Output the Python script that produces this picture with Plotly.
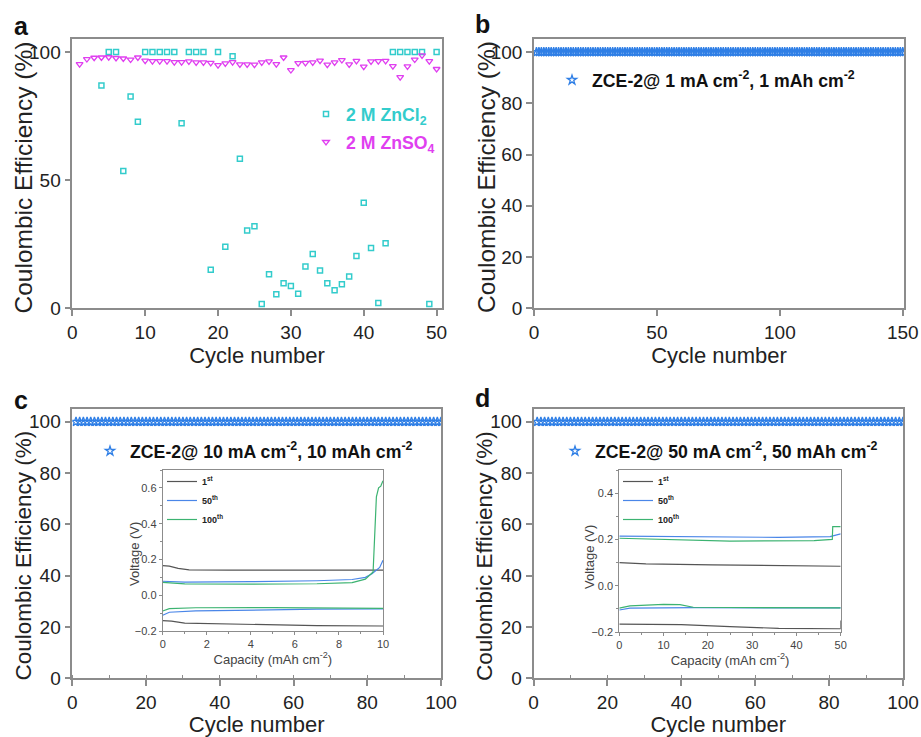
import plotly.graph_objects as go

W, H = 921, 737
FONT = "Arial, 'Liberation Sans', sans-serif"


def px(x):
    return x / W


def py(y):
    return 1 - y / H


# ---------------- Panel a data ----------------
a_cyc_zncl2 = [4, 5, 6, 7, 8, 9, 10, 11, 12, 13, 14, 15, 16, 17, 18, 19, 20, 21, 22, 23,
               24, 25, 26, 27, 28, 29, 30, 31, 32, 33, 34, 35, 36, 37, 38, 39, 40, 41, 42,
               43, 44, 45, 46, 47, 48, 49, 50]
a_ce_zncl2 = [87.0, 100.0, 100.0, 53.6, 82.7, 72.8, 100.0, 100.0, 100.0, 100.0, 100.0, 72.2,
              100.0, 100.0, 100.0, 15.0, 100.0, 24.0, 98.4, 58.4, 30.4, 32.0, 1.7, 13.3, 5.5,
              9.8, 8.7, 5.7, 16.3, 21.2, 14.8, 9.8, 7.0, 9.4, 12.4, 20.4, 41.2, 23.5, 2.1, 25.4,
              100.0, 100.0, 100.0, 100.0, 100.0, 1.7, 100.0]
a_cyc_znso4 = list(range(1, 51))
a_ce_znso4 = [95.3, 97.3, 97.8, 97.9, 98.0, 97.7, 97.5, 97.1, 97.9, 96.7, 96.5, 96.5, 96.5,
              96.1, 96.1, 96.4, 96.0, 96.0, 95.8, 94.9, 95.6, 96.1, 95.2, 95.2, 95.1, 96.0,
              96.4, 95.3, 97.9, 93.0, 95.7, 95.8, 96.0, 96.7, 95.1, 96.0, 96.9, 95.2, 96.6,
              94.3, 96.4, 96.5, 96.6, 94.5, 90.2, 94.4, 97.1, 98.7, 96.5, 93.4]

# ---------------- Panels b, c, d data ----------------
b_cycles = list(range(1, 151))
b_ce = [100, 100, 100, 100, 100, 100, 100, 100, 100, 100, 100, 100, 100, 100, 100,
        100, 100, 100, 100, 100, 100, 100, 100, 100, 100, 100, 100, 100, 100, 100,
        100, 100, 100, 100, 100, 100, 100, 100, 100, 100, 100, 100, 100, 100, 100,
        100, 100, 100, 100, 100, 100, 100, 100, 100, 100, 100, 100, 100, 100, 100,
        100, 100, 100, 100, 100, 100, 100, 100, 100, 100, 100, 100, 100, 100, 100,
        100, 100, 100, 100, 100, 100, 100, 100, 100, 100, 100, 100, 100, 100, 100,
        100, 100, 100, 100, 100, 100, 100, 100, 100, 100, 100, 100, 100, 100, 100,
        100, 100, 100, 100, 100, 100, 100, 100, 100, 100, 100, 100, 100, 100, 100,
        100, 100, 100, 100, 100, 100, 100, 100, 100, 100, 100, 100, 100, 100, 100,
        100, 100, 100, 100, 100, 100, 100, 100, 100, 100, 100, 100, 100, 100, 100]
c_cycles = list(range(1, 101))
c_ce = [100, 100, 100, 100, 100, 100, 100, 100, 100, 100, 100, 100, 100, 100, 100,
        100, 100, 100, 100, 100, 100, 100, 100, 100, 100, 100, 100, 100, 100, 100,
        100, 100, 100, 100, 100, 100, 100, 100, 100, 100, 100, 100, 100, 100, 100,
        100, 100, 100, 100, 100, 100, 100, 100, 100, 100, 100, 100, 100, 100, 100,
        100, 100, 100, 100, 100, 100, 100, 100, 100, 100, 100, 100, 100, 100, 100,
        100, 100, 100, 100, 100, 100, 100, 100, 100, 100, 100, 100, 100, 100, 100,
        100, 100, 100, 100, 100, 100, 100, 100, 100, 100]
d_cycles = list(range(1, 101))
d_ce = [100, 100, 100, 100, 100, 100, 100, 100, 100, 100, 100, 100, 100, 100, 100,
        100, 100, 100, 100, 100, 100, 100, 100, 100, 100, 100, 100, 100, 100, 100,
        100, 100, 100, 100, 100, 100, 100, 100, 100, 100, 100, 100, 100, 100, 100,
        100, 100, 100, 100, 100, 100, 100, 100, 100, 100, 100, 100, 100, 100, 100,
        100, 100, 100, 100, 100, 100, 100, 100, 100, 100, 100, 100, 100, 100, 100,
        100, 100, 100, 100, 100, 100, 100, 100, 100, 100, 100, 100, 100, 100, 100,
        100, 100, 100, 100, 100, 100, 100, 100, 100, 100]

# ---------------- Inset c (10 mAh cm-2) voltage profiles ----------------
c1_chg_x = [0, 0.3, 0.7, 1.2, 3, 6, 9, 10]
c1_chg_v = [0.165, 0.163, 0.150, 0.142, 0.140, 0.138, 0.140, 0.140]
c1_dis_x = [0, 0.4, 1.0, 4, 7, 10]
c1_dis_v = [-0.142, -0.145, -0.156, -0.163, -0.170, -0.172]
c50_chg_x = [0, 1, 4, 7, 8.6, 9.2, 9.5, 9.85, 10]
c50_chg_v = [0.078, 0.073, 0.076, 0.081, 0.088, 0.100, 0.120, 0.155, 0.195]
c50_dis_x = [0, 0.3, 1.5, 4, 7, 10]
c50_dis_v = [-0.112, -0.095, -0.088, -0.082, -0.078, -0.077]
c100_chg_x = [0, 1, 4, 7, 8.6, 9.2, 9.55, 9.62, 9.7, 9.8, 9.9, 10]
c100_chg_v = [0.072, 0.063, 0.062, 0.064, 0.070, 0.090, 0.130, 0.300, 0.550, 0.600, 0.610, 0.640]
c100_dis_x = [0, 0.3, 1.5, 5, 10]
c100_dis_v = [-0.088, -0.075, -0.070, -0.069, -0.073]

# ---------------- Inset d (50 mAh cm-2) voltage profiles ----------------
d1_chg_x = [0, 6, 21, 36, 50]
d1_chg_v = [0.100, 0.094, 0.090, 0.087, 0.084]
d1_dis_x = [0, 14, 25, 36, 49.5, 50, 50]
d1_dis_v = [-0.166, -0.168, -0.177, -0.184, -0.186, -0.186, -0.150]
d50_chg_x = [0, 14, 36, 47.6, 50]
d50_chg_v = [0.214, 0.211, 0.209, 0.212, 0.224]
d50_dis_x = [0, 2.4, 17, 36, 50]
d50_dis_v = [-0.105, -0.097, -0.095, -0.095, -0.096]
d100_chg_x = [0, 14, 25, 44, 47.6, 48.1, 48.2, 50]
d100_chg_v = [0.205, 0.197, 0.193, 0.195, 0.200, 0.200, 0.255, 0.255]
d100_dis_x = [0, 2.4, 10, 13.7, 16.7, 30, 50]
d100_dis_v = [-0.097, -0.087, -0.081, -0.082, -0.093, -0.095, -0.096]

CYAN = "#33cccc"
MAGENTA = "#e03ff0"
STAR = "#2f7fe6"
GRAY = "#555555"
BLUE = "#4a86e8"
GREEN = "#3cb371"
AXC = "#8c8c8c"

fig = go.Figure()

# panel a
fig.add_trace(go.Scatter(
    x=a_cyc_zncl2, y=a_ce_zncl2, mode="markers", xaxis="x", yaxis="y",
    name="<span style='color:%s'><b>2 M ZnCl<sub>2</sub></b></span>" % CYAN,
    marker=dict(symbol="square-open", size=5, color=CYAN, line=dict(width=1.5, color=CYAN)),
    legend="legend", legendgroup="g1"))
fig.add_trace(go.Scatter(
    x=a_cyc_znso4, y=a_ce_znso4, mode="markers", xaxis="x", yaxis="y",
    name="<span style='color:%s'><b>2 M ZnSO<sub>4</sub></b></span>" % MAGENTA,
    marker=dict(symbol="triangle-down-open", size=6, color=MAGENTA, line=dict(width=1.3, color=MAGENTA)),
    legend="legend", legendgroup="g2"))

star_marker = dict(symbol="star-open", size=7, color=STAR, line=dict(width=1.3, color=STAR))
fig.add_trace(go.Scatter(x=b_cycles, y=b_ce, mode="markers", xaxis="x2", yaxis="y2",
                         name="<b>ZCE-2@ 1 mA cm<sup>-2</sup>, 1 mAh cm<sup>-2</sup></b>",
                         marker=star_marker, legend="legend2"))
fig.add_trace(go.Scatter(x=c_cycles, y=c_ce, mode="markers", xaxis="x3", yaxis="y3",
                         name="<b>ZCE-2@ 10 mA cm<sup>-2</sup>, 10 mAh cm<sup>-2</sup></b>",
                         marker=star_marker, legend="legend3"))
fig.add_trace(go.Scatter(x=d_cycles, y=d_ce, mode="markers", xaxis="x4", yaxis="y4",
                         name="<b>ZCE-2@ 50 mA cm<sup>-2</sup>, 50 mAh cm<sup>-2</sup></b>",
                         marker=star_marker, legend="legend4"))


def profile(xc, vc, xd, vd):
    return list(xc) + [None] + list(xd), list(vc) + [None] + list(vd)


for (xc, vc, xd, vd, col, lab, ax, leg) in [
    (c1_chg_x, c1_chg_v, c1_dis_x, c1_dis_v, GRAY, "1<sup>st</sup>", "5", "legend5"),
    (c50_chg_x, c50_chg_v, c50_dis_x, c50_dis_v, BLUE, "50<sup>th</sup>", "5", "legend5"),
    (c100_chg_x, c100_chg_v, c100_dis_x, c100_dis_v, GREEN, "100<sup>th</sup>", "5", "legend5"),
    (d1_chg_x, d1_chg_v, d1_dis_x, d1_dis_v, GRAY, "1<sup>st</sup>", "6", "legend6"),
    (d50_chg_x, d50_chg_v, d50_dis_x, d50_dis_v, BLUE, "50<sup>th</sup>", "6", "legend6"),
    (d100_chg_x, d100_chg_v, d100_dis_x, d100_dis_v, GREEN, "100<sup>th</sup>", "6", "legend6"),
]:
    xx, vv = profile(xc, vc, xd, vd)
    fig.add_trace(go.Scatter(x=xx, y=vv, mode="lines", xaxis="x" + ax, yaxis="y" + ax,
                             name="<b>" + lab + "</b>", line=dict(color=col, width=1.2),
                             legend=leg, connectgaps=False))


def main_axis(dom, anchor, rng, dtick, title=None, minor=None):
    d = dict(domain=dom, anchor=anchor, range=rng, dtick=dtick, tick0=0,
             showline=True, linecolor=AXC, linewidth=1.5, mirror=True,
             ticks="outside", ticklen=6, tickwidth=1.5, tickcolor=AXC,
             tickfont=dict(size=19, color="#222"), showgrid=False, zeroline=False,
             automargin=False)
    if title:
        d["title"] = dict(text=title, font=dict(size=22, color="#222"), standoff=6)
    if minor:
        d["minor"] = minor
    return d


def inset_axis(dom, anchor, rng, dtick, title=None, fmt=None, minor=None):
    d = dict(domain=dom, anchor=anchor, range=rng, dtick=dtick, tick0=0,
             showline=True, linecolor=AXC, linewidth=1, mirror=True,
             ticks="outside", ticklen=3, tickwidth=1, tickcolor=AXC,
             tickfont=dict(size=11, color="#444"), showgrid=False, zeroline=False,
             automargin=False)
    if title:
        d["title"] = dict(text=title, font=dict(size=13, color="#444"), standoff=2)
    if fmt:
        d["tickformat"] = fmt
    if minor:
        d["minor"] = minor
    return d


xa_dom = [px(72.3), px(441.7)]
xb_dom = [px(534), px(904)]
xc_dom = [px(72.3), px(441)]
xd_dom = [px(533.5), px(903)]
ytop_dom = [py(308.3), py(39.3)]
ybot_dom = [py(678.3), py(409)]
minor_in = dict(dtick=10, ticks="inside", ticklen=4, tickcolor=AXC, tickwidth=1.2)
LEGFONT = 17.7

fig.update_layout(
    width=W, height=H, margin=dict(l=0, r=0, t=0, b=0),
    paper_bgcolor="white", plot_bgcolor="white",
    font=dict(family=FONT, color="#222"),
    xaxis=main_axis(xa_dom, "y", [0, 50.7], 10, "Cycle number"),
    yaxis=main_axis(ytop_dom, "x", [0, 105], 50),
    xaxis2=main_axis(xb_dom, "y2", [0, 150.5], 50, "Cycle number"),
    yaxis2=main_axis(ytop_dom, "x2", [0, 105], 20),
    xaxis3=main_axis(xc_dom, "y3", [0, 100], 20, "Cycle number", minor_in),
    yaxis3=main_axis(ybot_dom, "x3", [0, 105], 20),
    xaxis4=main_axis(xd_dom, "y4", [0, 100], 20, "Cycle number", minor_in),
    yaxis4=main_axis(ybot_dom, "x4", [0, 105], 20),
    xaxis5=inset_axis([px(162.7), px(383)], "y5", [0, 10], 2, "Capacity (mAh cm<sup>-2</sup>)",
                      minor=dict(dtick=1, ticks="outside", ticklen=2, tickcolor=AXC)),
    yaxis5=inset_axis([py(631), py(470)], "x5", [-0.2, 0.7], 0.2, None, ".1f",
                      minor=dict(dtick=0.1, ticks="outside", ticklen=2, tickcolor=AXC)),
    xaxis6=inset_axis([px(619.3), px(840.7)], "y6", [0, 50], 10, "Capacity (mAh cm<sup>-2</sup>)",
                      minor=dict(dtick=5, ticks="outside", ticklen=2, tickcolor=AXC)),
    yaxis6=inset_axis([py(632), py(470)], "x6", [-0.2, 0.5], 0.2, None, ".1f",
                      minor=dict(dtick=0.1, ticks="outside", ticklen=2, tickcolor=AXC)),
    legend=dict(x=px(306), y=py(96), xanchor="left", yanchor="top", bgcolor="rgba(0,0,0,0)",
                font=dict(size=LEGFONT, family=FONT), traceorder="grouped", tracegroupgap=2),
    legend2=dict(x=px(552), y=py(62), xanchor="left", yanchor="top", bgcolor="rgba(0,0,0,0)",
                 font=dict(size=LEGFONT, family=FONT, color="#111")),
    legend3=dict(x=px(90), y=py(433), xanchor="left", yanchor="top", bgcolor="rgba(0,0,0,0)",
                 font=dict(size=LEGFONT, family=FONT, color="#111")),
    legend4=dict(x=px(555), y=py(433), xanchor="left", yanchor="top", bgcolor="rgba(0,0,0,0)",
                 font=dict(size=LEGFONT, family=FONT, color="#111")),
    legend5=dict(x=px(162), y=py(467), xanchor="left", yanchor="top", bgcolor="rgba(0,0,0,0)",
                 font=dict(size=9, family=FONT, color="#222")),
    legend6=dict(x=px(618), y=py(467), xanchor="left", yanchor="top", bgcolor="rgba(0,0,0,0)",
                 font=dict(size=9, family=FONT, color="#222")),
)

# panel letters
for lab, x, y in [("a", 21, 26), ("b", 482, 24), ("c", 21, 400), ("d", 482, 398)]:
    fig.add_annotation(text="<b>%s</b>" % lab, x=px(x), y=py(y), xref="paper", yref="paper",
                       showarrow=False, xanchor="center", yanchor="middle",
                       font=dict(size=25, color="#111", family=FONT))

# y-axis titles (rotated text)
for x, y, s in [(23, 177.5, 24.5), (486.5, 177.5, 24.5), (22.5, 556, 22.5), (484, 556, 22.5)]:
    fig.add_annotation(text="Coulombic Efficiency (%)", x=px(x), y=py(y), xref="paper",
                       yref="paper", showarrow=False, textangle=-90, xanchor="center",
                       yanchor="middle", font=dict(size=s, color="#222", family=FONT))
for x, y in [(134, 554), (589, 557)]:
    fig.add_annotation(text="Voltage (V)", x=px(x), y=py(y), xref="paper", yref="paper",
                       showarrow=False, textangle=-90, xanchor="center", yanchor="middle",
                       font=dict(size=13, color="#444", family=FONT))

fig.write_html("out.html")
